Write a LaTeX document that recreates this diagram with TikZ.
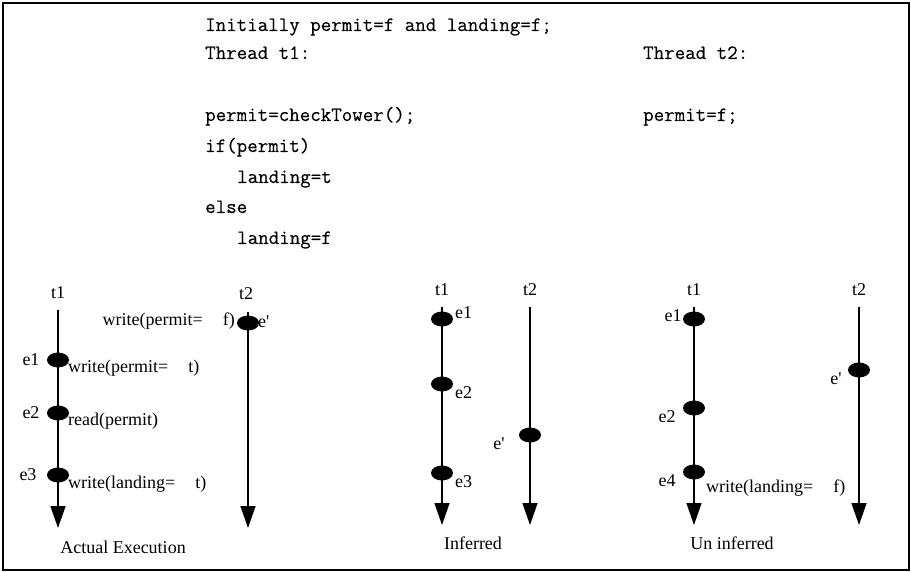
\documentclass[tikz,border=0pt]{standalone}
\usepackage{fontspec}
\setmainfont{Liberation Serif}
\newfontfamily\codefont[FakeBold=0.35]{Latin Modern Mono}
\usetikzlibrary{arrows.meta,shapes.geometric}
\begin{document}
\begin{tikzpicture}[x=1pt,y=-1pt,
  lbl/.style={font=\fontsize{18}{20}\selectfont, inner sep=0pt},
  code/.style={font=\codefont\fontsize{20.4}{24}\selectfont, inner sep=0pt, anchor=base west},
  evt/.style={ellipse, fill=black, minimum width=22pt, minimum height=15pt, inner sep=0pt},
  tline/.style={line width=1.4pt, -{Triangle[width=15pt,length=22pt]}},
]
\useasboundingbox (0,0) rectangle (911,572);
\draw[line width=2pt] (3,3) rectangle (909,570);

% code
\node[code] (c1) at (205,31) {Initially permit=f and landing=f;};
\node[code] (c2) at (205,59) {Thread t1:};
\node[code] (c2b) at (643,59) {Thread t2:};
\node[code] (c4) at (205,121) {permit=checkTower();};
\node[code] (c4b) at (643,121) {permit=f;};
\node[code] (c5) at (205,152) {if(permit)};
\node[code] (c6) at (237,183) {landing=t};
\node[code] (c7) at (205,213) {else};
\node[code] (c8) at (237,244) {landing=f};

% ---- panel 1: Actual Execution
\coordinate (a1top) at (58,310);
\coordinate (a1end) at (58,528);
\coordinate (a2top) at (248,312);
\coordinate (a2end) at (248,528);
\draw[tline] (a1top) -- (a1end);
\draw[tline] (a2top) -- (a2end);
\node[lbl, anchor=base] (at1) at (58,299) {t1};
\node[lbl, anchor=base] (at2) at (246,300) {t2};
\node[evt] (ae1) at (58,360) {};
\node[evt] (ae2) at (58,413) {};
\node[evt] (ae3) at (58,475) {};
\node[evt] (aep) at (248,323) {};
\node[lbl, anchor=base] (ae1l) at (31,365) {e1};
\node[lbl, anchor=base] (ae2l) at (31,418) {e2};
\node[lbl, anchor=base] (ae3l) at (28,480) {e3};
\node[lbl, anchor=base west] (aw1) at (68,372) {write(permit=\hspace{20pt}t)};
\node[lbl, anchor=base west] (ar) at (68,425) {read(permit)};
\node[lbl, anchor=base west] (aw3) at (68,488) {write(landing=\hspace{20pt}t)};
\node[lbl, anchor=base east] (awf) at (235,326) {write(permit=\hspace{20pt}f)};
\node[lbl, anchor=base west] (aepl) at (258,327) {e\textquotesingle};
\node[lbl, anchor=base] (acap) at (123,553) {Actual Execution};

% ---- panel 2: Inferred
\coordinate (b1top) at (442,307);
\coordinate (b1end) at (442,525);
\coordinate (b2top) at (530,307);
\coordinate (b2end) at (530,525);
\draw[tline] (b1top) -- (b1end);
\draw[tline] (b2top) -- (b2end);
\node[lbl, anchor=base] (bt1) at (442,296) {t1};
\node[lbl, anchor=base] (bt2) at (530,296) {t2};
\node[evt] (be1) at (442,319) {};
\node[evt] (be2) at (442,384) {};
\node[evt] (be3) at (442,473) {};
\node[evt] (bep) at (530,435) {};
\node[lbl, anchor=base west] (be1l) at (455,319) {e1};
\node[lbl, anchor=base west] (be2l) at (455,398) {e2};
\node[lbl, anchor=base west] (be3l) at (455,487) {e3};
\node[lbl, anchor=base] (bepl) at (499,449) {e\textquotesingle};
\node[lbl, anchor=base] (bcap) at (473,549) {Inferred};

% ---- panel 3: Un inferred
\coordinate (c1top) at (694,307);
\coordinate (c1end) at (694,525);
\coordinate (c2top) at (859,307);
\coordinate (c2end) at (859,525);
\draw[tline] (c1top) -- (c1end);
\draw[tline] (c2top) -- (c2end);
\node[lbl, anchor=base] (ct1) at (694,296) {t1};
\node[lbl, anchor=base] (ct2) at (859,296) {t2};
\node[evt] (ce1) at (694,319) {};
\node[evt] (ce2) at (694,408) {};
\node[evt] (ce4) at (694,472) {};
\node[evt] (cep) at (859,370) {};
\node[lbl, anchor=base] (ce1l) at (673,321) {e1};
\node[lbl, anchor=base] (ce2l) at (667,422) {e2};
\node[lbl, anchor=base] (ce4l) at (667,486) {e4};
\node[lbl, anchor=base west] (cw4) at (706,492) {write(landing=\hspace{20pt}f)};
\node[lbl, anchor=base] (cepl) at (836,384) {e\textquotesingle};
\node[lbl, anchor=base] (ccap) at (732,549) {Un inferred};
\end{tikzpicture}
\end{document}
